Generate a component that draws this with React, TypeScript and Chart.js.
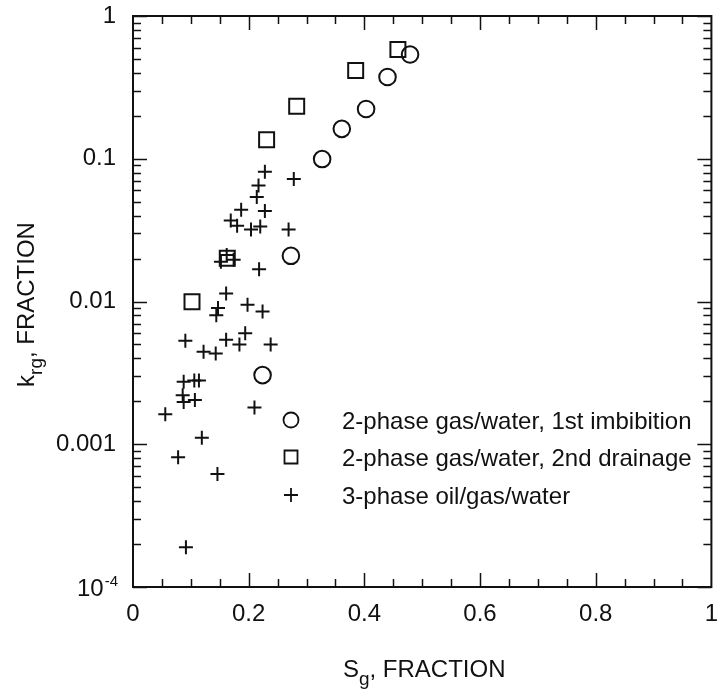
import React, { useEffect, useRef } from "react";
import { Chart, registerables } from "chart.js";

Chart.register(...registerables);

// ---- Data ----
const imbibitionSg = [0.224, 0.273, 0.327, 0.361, 0.403, 0.44, 0.479];
const imbibitionKrg = [0.00305, 0.0209, 0.0995, 0.162, 0.223, 0.374, 0.537];

const drainageSg = [0.102, 0.163, 0.231, 0.283, 0.385, 0.458];
const drainageKrg = [0.00997, 0.0201, 0.136, 0.233, 0.415, 0.582];

const threePhaseSg = [
  0.228, 0.278, 0.217, 0.214, 0.187, 0.228, 0.169, 0.18, 0.204, 0.22, 0.269,
  0.152, 0.162, 0.174, 0.218, 0.161, 0.147, 0.144, 0.198, 0.224, 0.0905,
  0.122, 0.143, 0.161, 0.194, 0.184, 0.238, 0.0876, 0.106, 0.114, 0.0859,
  0.0876, 0.107, 0.21, 0.0558, 0.119, 0.078, 0.146, 0.0915,
];
const threePhaseKrg = [
  0.081, 0.072, 0.065, 0.054, 0.044, 0.043, 0.037, 0.034, 0.032, 0.0335, 0.032,
  0.019, 0.0212, 0.0196, 0.0168, 0.0114, 0.009, 0.008, 0.0095, 0.0085, 0.0053,
  0.00445, 0.00433, 0.0054, 0.006, 0.005, 0.005, 0.00274, 0.0028, 0.0028,
  0.0022, 0.00198, 0.00204, 0.00181, 0.00162, 0.00111, 0.00081, 0.00062,
  0.00019,
];

const seriesLabels = [
  "2-phase gas/water, 1st imbibition",
  "2-phase gas/water, 2nd drainage",
  "3-phase oil/gas/water",
];

const xTickValues = [0, 0.2, 0.4, 0.6, 0.8, 1];
const yTickValues = [1e-4, 1e-3, 1e-2, 1e-1, 1];
const yTickLabels = ["", "0.001", "0.01", "0.1", "1"];
const yMinBase = "10";
const yMinExp = "-4";

const xTitleMain = "S";
const xTitleSub = "g";
const yTitleMain = "k";
const yTitleSub = "rg";
const titleRest = ", FRACTION";

const FONT = "'Liberation Sans', Arial, Helvetica, sans-serif";
const INK = "#111";

function toPoints(xs: number[], ys: number[]) {
  return xs.map((x, i) => ({ x, y: ys[i] }));
}

const decorPlugin = {
  id: "decor",
  afterDraw(chart: any) {
    const { ctx, chartArea: a, scales } = chart;
    const xs = scales.x;
    const ys = scales.y;
    ctx.save();
    ctx.strokeStyle = INK;
    ctx.fillStyle = INK;
    ctx.lineWidth = 1.5;

    // x ticks (inward, top and bottom)
    ctx.beginPath();
    for (let i = 1; i < 20; i++) {
      const v = i * 0.05;
      const px = Math.round(xs.getPixelForValue(v)) + 0.5;
      const len = i % 4 === 0 ? 14 : 8;
      ctx.moveTo(px, a.bottom);
      ctx.lineTo(px, a.bottom - len);
      ctx.moveTo(px, a.top);
      ctx.lineTo(px, a.top + len);
    }
    // y ticks (inward, left and right)
    for (let d = -4; d <= 0; d++) {
      for (let m = 1; m <= 9; m++) {
        if (d === 0 && m > 1) break;
        const v = m * Math.pow(10, d);
        const py = Math.round(ys.getPixelForValue(v)) + 0.5;
        const len = m === 1 ? 14 : 8;
        ctx.moveTo(a.left, py);
        ctx.lineTo(a.left + len, py);
        ctx.moveTo(a.right, py);
        ctx.lineTo(a.right - len, py);
      }
    }
    ctx.stroke();

    // frame
    ctx.lineWidth = 2;
    ctx.strokeRect(a.left, a.top, a.right - a.left, a.bottom - a.top);

    // 10^-4 label
    const py4 = ys.getPixelForValue(1e-4);
    ctx.textBaseline = "alphabetic";
    ctx.font = `15px ${FONT}`;
    const expW = ctx.measureText(yMinExp).width;
    ctx.font = `24px ${FONT}`;
    const baseW = ctx.measureText(yMinBase).width;
    const right = a.left - 15;
    ctx.textAlign = "left";
    ctx.fillText(yMinBase, right - expW - baseW - 1, py4 + 8.5);
    ctx.font = `15px ${FONT}`;
    ctx.fillText(yMinExp, right - expW, py4 - 1);

    // legend
    const lx = 291;
    const tx = 342;
    const rows = [420, 457, 495];
    chart.data.datasets.forEach((ds: any, i: number) => {
      const y = rows[i];
      ctx.lineWidth = 1.8;
      ctx.beginPath();
      if (ds.pointStyle === "circle") {
        ctx.arc(lx, y, 7.5, 0, Math.PI * 2);
      } else if (ds.pointStyle === "rect") {
        ctx.rect(lx - 6.5, y - 6.5, 13, 13);
      } else {
        ctx.moveTo(lx - 7, y);
        ctx.lineTo(lx + 7, y);
        ctx.moveTo(lx, y - 7);
        ctx.lineTo(lx, y + 7);
      }
      ctx.stroke();
      ctx.font = `24px ${FONT}`;
      ctx.textAlign = "left";
      ctx.textBaseline = "alphabetic";
      ctx.fillText(ds.label, tx, y + 8.5);
    });

    // axis titles
    const drawTitle = (main: string, sub: string, cx: number, baseY: number) => {
      ctx.font = `24px ${FONT}`;
      const w1 = ctx.measureText(main).width;
      const w3 = ctx.measureText(titleRest).width;
      ctx.font = `19px ${FONT}`;
      const w2 = ctx.measureText(sub).width;
      const total = w1 + w2 + w3;
      const x0 = cx - total / 2;
      ctx.textAlign = "left";
      ctx.textBaseline = "alphabetic";
      ctx.font = `24px ${FONT}`;
      ctx.fillText(main, x0, baseY);
      ctx.font = `19px ${FONT}`;
      ctx.fillText(sub, x0 + w1, baseY + 8);
      ctx.font = `24px ${FONT}`;
      ctx.fillText(titleRest, x0 + w1 + w2, baseY);
    };
    drawTitle(xTitleMain, xTitleSub, (a.left + a.right) / 2 + 2, 677);

    ctx.save();
    ctx.translate(34, (a.top + a.bottom) / 2 + 3);
    ctx.rotate(-Math.PI / 2);
    drawTitle(yTitleMain, yTitleSub, 0, 0);
    ctx.restore();

    ctx.restore();
  },
};

export default function App() {
  const ref = useRef<HTMLCanvasElement | null>(null);

  useEffect(() => {
    if (!ref.current) return;
    const common = {
      showLine: false,
      borderColor: INK,
      backgroundColor: "rgba(0,0,0,0)",
      borderWidth: 2,
    };
    const chart = new Chart(ref.current, {
      type: "scatter",
      data: {
        datasets: [
          {
            ...common,
            label: seriesLabels[0],
            data: toPoints(imbibitionSg, imbibitionKrg),
            pointStyle: "circle",
            pointRadius: 8.3,
          },
          {
            ...common,
            label: seriesLabels[1],
            data: toPoints(drainageSg, drainageKrg),
            pointStyle: "rect",
            pointRadius: 10.6,
          },
          {
            ...common,
            label: seriesLabels[2],
            data: toPoints(threePhaseSg, threePhaseKrg),
            pointStyle: "cross",
            pointRadius: 7,
          },
        ],
      },
      options: {
        responsive: false,
        animation: false,
        devicePixelRatio: 1,
        layout: { padding: { left: 0, top: 16, right: 2, bottom: 0 } },
        plugins: {
          legend: { display: false },
          tooltip: { enabled: false },
        },
        scales: {
          x: {
            type: "linear",
            min: 0,
            max: 1,
            grid: { display: false, drawTicks: false },
            border: { display: false },
            afterBuildTicks: (s: any) => {
              s.ticks = xTickValues.map((v) => ({ value: v }));
            },
            ticks: {
              color: INK,
              padding: 13,
              maxRotation: 0,
              autoSkip: false,
              font: { family: FONT, size: 24 },
              callback: (v: any) => String(v),
            },
            afterFit: (s: any) => {
              s.height = 112;
              s.paddingLeft = 0;
              s.paddingRight = 0;
            },
          },
          y: {
            type: "logarithmic",
            min: 1e-4,
            max: 1,
            grid: { display: false, drawTicks: false },
            border: { display: false },
            afterBuildTicks: (s: any) => {
              s.ticks = yTickValues.map((v) => ({ value: v }));
            },
            ticks: {
              color: INK,
              padding: 17,
              autoSkip: false,
              font: { family: FONT, size: 24 },
              callback: (v: any) => {
                const i = yTickValues.findIndex((t) => Math.abs(t - v) / t < 1e-6);
                return i >= 0 ? yTickLabels[i] : "";
              },
            },
            afterFit: (s: any) => {
              s.width = 133;
              s.paddingTop = 0;
              s.paddingBottom = 0;
            },
          },
        },
      },
      plugins: [decorPlugin],
    } as any);
    return () => chart.destroy();
  }, []);

  return (
    <div style={{ position: "fixed", left: 0, top: 0, width: 724, height: 699, background: "#fff" }}>
      <canvas ref={ref} width={724} height={699} style={{ width: 724, height: 699, display: "block" }} />
    </div>
  );
}
